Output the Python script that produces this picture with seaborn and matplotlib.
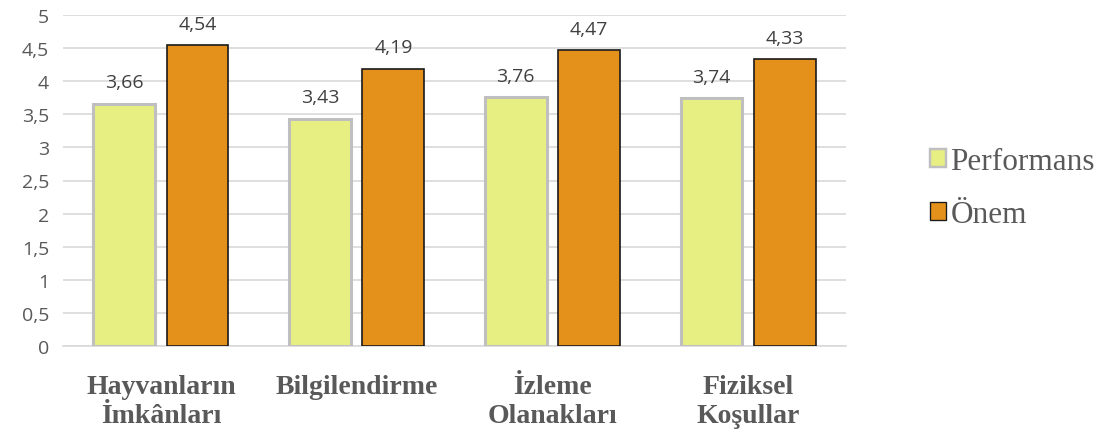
import matplotlib
matplotlib.use("Agg")
import matplotlib.pyplot as plt
import seaborn as sns
import pandas as pd
from matplotlib.patches import Patch

categories = ["Hayvanların\nİmkânları", "Bilgilendirme", "İzleme\nOlanakları", "Fiziksel\nKoşullar"]
series_names = ["Performans", "Önem"]
performans = [3.66, 3.43, 3.76, 3.74]
onem = [4.54, 4.19, 4.47, 4.33]
yticks = [0, 0.5, 1, 1.5, 2, 2.5, 3, 3.5, 4, 4.5, 5]

df = pd.DataFrame({
    "cat": categories * 2,
    "series": [series_names[0]] * 4 + [series_names[1]] * 4,
    "value": performans + onem,
})

sns.set_style("white")
plt.rcParams['font.family'] = ['Open Sans', 'DejaVu Sans']

fill = {"Performans": "#E8EF82", "Önem": "#E4911C"}
edge = {"Performans": "#BFBFBF", "Önem": "#1a1a1a"}
lw = {"Performans": 2.2, "Önem": 1.2}

fig = plt.figure(figsize=(10.96, 4.31), dpi=100)
ax = fig.add_axes([63/1096, 1-347/431, (846-63)/1096, (347-16)/431])

sns.barplot(data=df, x="cat", y="value", hue="series", palette=fill, saturation=1,
            width=0.75, gap=0.16, ax=ax, legend=False, zorder=3)

for container, name in zip(ax.containers, series_names):
    for bar in container:
        bar.set_edgecolor(edge[name])
        bar.set_linewidth(lw[name])
    ax.bar_label(container, labels=[f"{v:.2f}".replace(".", ",") for v in container.datavalues],
                 padding=9, fontsize=14, color="#404040")

ax.set_ylim(0, 5)
ax.set_yticks(yticks)
ax.set_yticklabels([f"{t:g}".replace(".", ",") for t in yticks], fontsize=14, color="#595959")
ax.set_xlim(-0.5, 3.5)
ax.yaxis.grid(True, color="#D9D9D9", linewidth=1.2, zorder=0)
ax.set_axisbelow(True)
for s in ["top", "right", "left"]:
    ax.spines[s].set_visible(False)
ax.spines["bottom"].set_color("#D9D9D9")
ax.spines["bottom"].set_linewidth(1.2)
ax.tick_params(axis="both", length=0)
ax.tick_params(axis="y", pad=10)
ax.tick_params(axis="x", pad=20)
ax.set_xticks(range(4))
ax.set_xticklabels(categories, family=["Liberation Serif"], fontweight="bold",
                   fontsize=20, color="#595959", linespacing=1.2)
ax.set_xlabel("")
ax.set_ylabel("")

handles = [Patch(facecolor=fill[n], edgecolor=edge[n], linewidth=lw[n] * 0.8) for n in series_names]
leg = fig.legend(handles, series_names, loc="center left", bbox_to_anchor=(902/1096, 1-189/431),
                 frameon=False, prop={"family": "Liberation Serif", "size": 22.5},
                 handlelength=0.5, handleheight=0.5, handletextpad=0.15, labelspacing=0.75)
for t in leg.get_texts():
    t.set_color("#595959")

fig.savefig("out.png", dpi=100)
